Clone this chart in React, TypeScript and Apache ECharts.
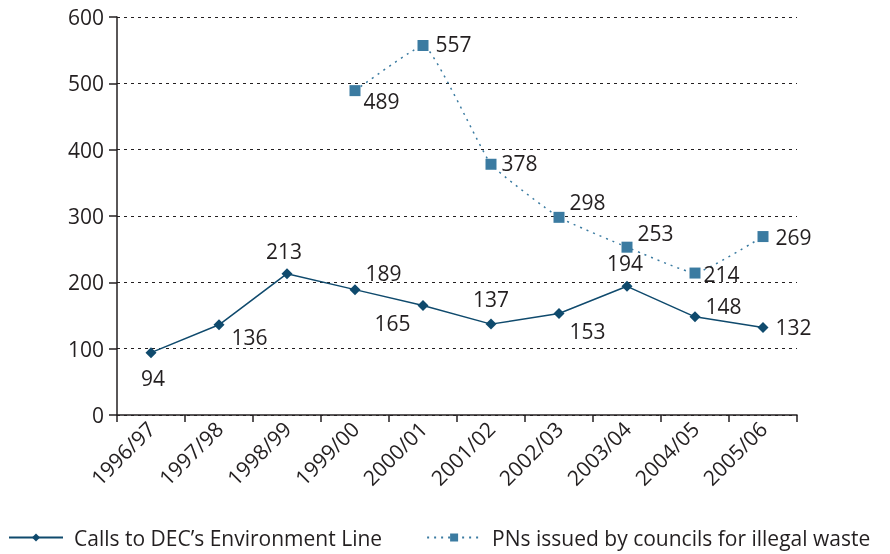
import React, { useEffect, useRef } from "react";
import * as echarts from "echarts";

const categories = ["1996/97", "1997/98", "1998/99", "1999/00", "2000/01", "2001/02", "2002/03", "2003/04", "2004/05", "2005/06"];
const callsValues = [94, 136, 213, 189, 165, 137, 153, 194, 148, 132];
const pnValues: (number | null)[] = [null, null, null, 489, 557, 378, 298, 253, 214, 269];
const yTicks = [0, 100, 200, 300, 400, 500, 600];

// label placement per point: [position, offsetX, offsetY]
const callsLabelPos: [string, number, number][] = [
  ["bottom", 2, 4],
  ["right", 2, 12],
  ["top", -3, -2],
  ["right", 0, -17],
  ["left", -2, 17],
  ["top", 0, -4],
  ["right", 0, 17],
  ["top", -2, -2],
  ["right", 0, -11],
  ["right", 2, 0],
];
const pnLabelPos: [string, number, number][] = [
  ["right", 0, 0],
  ["right", 0, 0],
  ["right", 0, 0],
  ["right", -2, 10],
  ["right", 2, -2],
  ["right", 0, -1],
  ["right", 0, -15],
  ["right", 0, -14],
  ["right", -2, 1],
  ["right", 2, 0],
];

const FONT = "'Open Sans', 'Noto Sans', sans-serif";
const TEXT = "#231f20";
const CALLS_COLOR = "#0f4a6d";
const PN_COLOR = "#3b7ba1";

export default function App() {
  const ref = useRef<HTMLDivElement>(null);
  useEffect(() => {
    if (!ref.current) return;
    const chart = echarts.init(ref.current, undefined, { renderer: "svg" });
    const labelStyle = { fontSize: 21, color: TEXT, fontFamily: FONT };
    chart.setOption({
      animation: false,
      grid: { left: 117, top: 17, width: 680, height: 398 },
      legend: {
        top: 522,
        left: 3,
        itemGap: 44,
        itemWidth: 54,
        itemHeight: 10,
        textStyle: { fontSize: 21, color: TEXT, fontFamily: FONT, padding: [0, 0, 0, 6] },
        data: ["Calls to DEC\u2019s Environment Line", "PNs issued by councils for illegal waste"],
      },
      xAxis: {
        type: "category",
        data: categories,
        boundaryGap: true,
        axisLine: { lineStyle: { color: TEXT, width: 1.5 } },
        axisTick: { show: true, length: 7, lineStyle: { color: TEXT, width: 1.5 } },
        axisLabel: {
          rotate: 45,
          interval: 0,
          fontSize: 21,
          color: TEXT,
          fontFamily: FONT,
          margin: 10,
        },
      },
      yAxis: {
        type: "value",
        min: yTicks[0],
        max: yTicks[yTicks.length - 1],
        interval: 100,
        axisLine: { show: true, lineStyle: { color: TEXT, width: 1.5 } },
        axisTick: { show: true, length: 8, lineStyle: { color: TEXT, width: 1.5 } },
        axisLabel: { fontSize: 21, color: TEXT, fontFamily: FONT, margin: 13 },
        splitLine: { show: true, lineStyle: { color: TEXT, type: [3, 4], width: 1.2 } },
      },
      series: [
        {
          name: "Calls to DEC\u2019s Environment Line",
          type: "line",
          data: callsValues.map((v, i) => ({
            value: v,
            label: {
              show: true,
              position: callsLabelPos[i][0],
              offset: [callsLabelPos[i][1], callsLabelPos[i][2]],
              ...labelStyle,
            },
          })),
          symbol: "diamond",
          symbolSize: 11,
          showAllSymbol: true,
          itemStyle: { color: CALLS_COLOR },
          lineStyle: { color: CALLS_COLOR, width: 1.5 },
          z: 3,
        },
        {
          name: "PNs issued by councils for illegal waste",
          type: "line",
          smooth: 0.12,
          connectNulls: false,
          data: pnValues.map((v, i) => ({
            value: v,
            label: {
              show: true,
              position: pnLabelPos[i][0],
              offset: [pnLabelPos[i][1], pnLabelPos[i][2]],
              ...labelStyle,
            },
          })),
          symbol: "rect",
          symbolSize: 11,
          showAllSymbol: true,
          itemStyle: { color: PN_COLOR },
          lineStyle: { color: PN_COLOR, width: 1.5, type: [2, 5] },
          z: 3,
        },
      ],
    });
    return () => chart.dispose();
  }, []);
  return <div ref={ref} style={{ position: "fixed", left: 0, top: 0, width: 890, height: 554 }} />;
}
